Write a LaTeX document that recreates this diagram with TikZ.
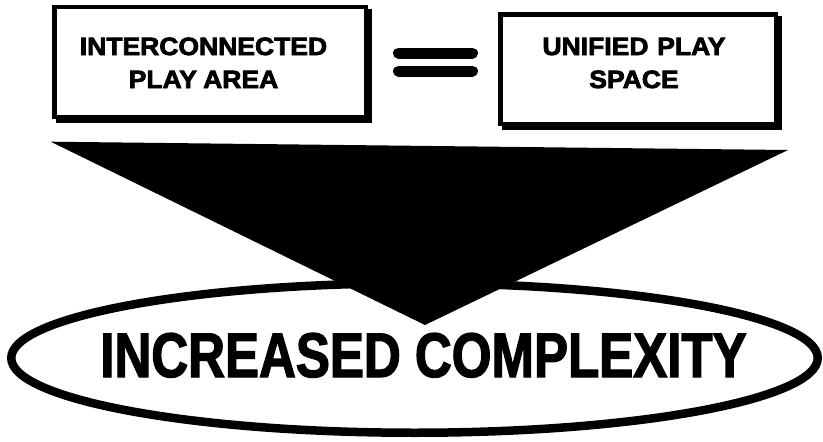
\documentclass[tikz,border=0pt]{standalone}
\usepackage{fontspec}
\setmainfont{Liberation Sans}
\newfontfamily\toplab[FakeStretch=1.06,FakeBold=3]{Liberation Sans}
\newfontfamily\biglab[FakeStretch=0.81,FakeBold=2]{Liberation Sans}
\usetikzlibrary{shapes.geometric}
\tikzset{
  box/.style={draw=black, line width=4.5, fill=white, inner sep=0,
    preaction={fill=black, draw=black, line width=4.5,
      transform canvas={shift={(4pt,-4pt)}}}},
  toptext/.style={font=\toplab\bfseries\fontsize{25}{33}\selectfont,
    align=center, inner sep=0},
  bigtext/.style={font=\biglab\bfseries\fontsize{63}{70}\selectfont,
    inner sep=0},
  eqbar/.style={line width=11, line cap=round},
  oval/.style={ellipse, draw=black, line width=8.5, fill=white, inner sep=0}
}
\begin{document}
\begin{tikzpicture}[x=1pt,y=-1pt]
\useasboundingbox (0,0) rectangle (823,442);
\fill[white] (0,0) rectangle (823,442);
% boxes
\node[box, minimum width=311.5, minimum height=110] (lbox) at (210,62) {};
\node[box, minimum width=275.5, minimum height=109.5] (rbox) at (638,69) {};
\node[toptext, anchor=base] (ltext) at (203.5,88) {INTERCONNECTED\\PLAY\hspace{0.25em}AREA};
\node[toptext, anchor=base] (rtext) at (634,88) {UNIFIED\hspace{0.35em}PLAY\\SPACE};
% equals sign
\coordinate (e1a) at (398.5,53);
\coordinate (e1b) at (472.5,53);
\coordinate (e2a) at (398.5,71);
\coordinate (e2b) at (472.5,71);
\draw[eqbar] (e1a) -- (e1b);
\draw[eqbar] (e2a) -- (e2b);
% ellipse
\node[oval, minimum width=806.5, minimum height=149.5] (ell) at (414.5,358) {};
% funnel triangle
\coordinate (tl) at (50.7,141.7);
\coordinate (tr) at (788,150);
\coordinate (tip) at (425,325);
\fill[black] (tl) -- (tr) -- (tip) -- cycle;
% big text
\node[bigtext, anchor=base] (inc) at (423.5,377) {INCREASED COMPLEXITY};
\end{tikzpicture}
\end{document}
